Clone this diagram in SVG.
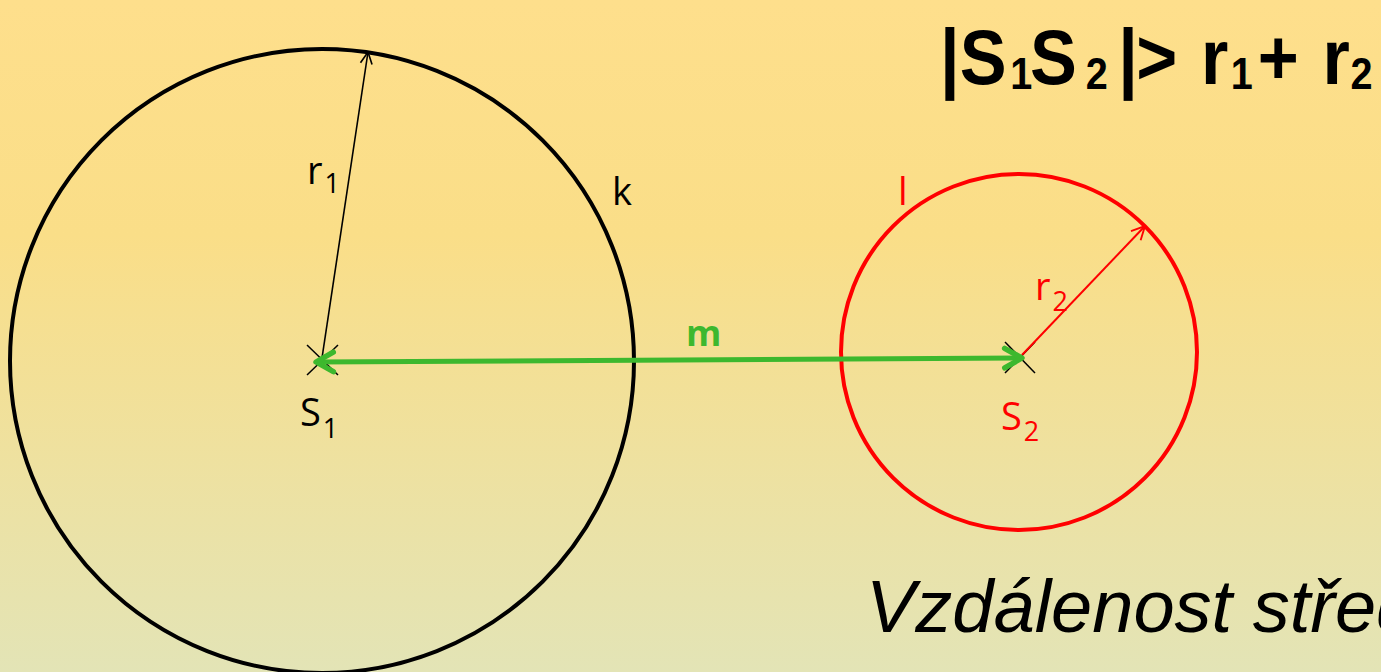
<svg xmlns="http://www.w3.org/2000/svg" width="1381" height="672" viewBox="0 0 1381 672">
  <defs>
    <linearGradient id="bg" x1="0" y1="0" x2="0" y2="1">
      <stop offset="0" stop-color="#FEDF8C"/>
      <stop offset="0.35" stop-color="#FADE88"/>
      <stop offset="1" stop-color="#E3E4B6"/>
    </linearGradient>
    <marker id="arrK" viewBox="0 0 12 12" refX="11" refY="6" markerWidth="14" markerHeight="14" markerUnits="userSpaceOnUse" orient="auto">
      <path d="M1,1 L11,6 L1,11" fill="none" stroke="#000" stroke-width="1.4"/>
    </marker>
    <marker id="arrR" viewBox="0 0 12 12" refX="11" refY="6" markerWidth="16" markerHeight="16" markerUnits="userSpaceOnUse" orient="auto">
      <path d="M1,1 L11,6 L1,11" fill="none" stroke="#FF0000" stroke-width="1.4"/>
    </marker>
    <marker id="arrG" viewBox="0 0 24 24" refX="21" refY="12" markerWidth="26" markerHeight="26" markerUnits="userSpaceOnUse" orient="auto-start-reverse">
      <path d="M5,3 L21,12 L5,21" fill="none" stroke="#3DB82E" stroke-width="5" stroke-linecap="round" stroke-linejoin="round"/>
    </marker>
  </defs>
  <style>
    .lbl { font-family: "Open Sans", "Noto Sans", sans-serif; font-size: 38px; }
    .sub { font-size: 27px; }
    .blk { fill: #000; }
    .red { fill: #FF0000; }
    .title { font-family: "Liberation Sans", Arial, sans-serif; font-weight: bold; font-size: 78px; fill: #000; }
    .tsub { font-size: 44px; }
    .note { font-family: "Liberation Sans", Arial, sans-serif; font-style: italic; font-size: 74px; fill: #000; }
    .cross { stroke: #000; stroke-width: 1.5; }
  </style>
  <rect x="0" y="0" width="1381" height="672" fill="url(#bg)"/>

  <g id="circle-k">
    <circle cx="322" cy="361" r="312" fill="none" stroke="#000" stroke-width="4"/>
    <text class="lbl blk" x="612" y="205">k</text>
  </g>

  <g id="circle-l">
    <circle cx="1019" cy="352" r="178" fill="none" stroke="#FF0000" stroke-width="4"/>
    <text class="lbl red" x="898" y="205">l</text>
  </g>

  <g id="point-S1">
    <line class="cross" x1="307" y1="345" x2="338" y2="375"/>
    <line class="cross" x1="307" y1="375" x2="338" y2="345"/>
    <text class="lbl blk" x="300" y="426">S<tspan class="sub" dx="2" y="438">1</tspan></text>
  </g>

  <g id="point-S2">
    <line class="cross" x1="1005" y1="342" x2="1035" y2="373"/>
    <line class="cross" x1="1005" y1="373" x2="1035" y2="342"/>
    <text class="lbl red" x="1001" y="430">S<tspan class="sub" dx="2" y="441">2</tspan></text>
  </g>

  <g id="connectors">
    <line x1="322" y1="358" x2="368" y2="52" stroke="#000" stroke-width="1.6" marker-end="url(#arrK)"/>
    <line x1="1022" y1="355" x2="1145" y2="226" stroke="#FF0000" stroke-width="2" marker-end="url(#arrR)"/>
    <line x1="316" y1="362" x2="1022" y2="358" stroke="#3DB82E" stroke-width="5" marker-start="url(#arrG)" marker-end="url(#arrG)"/>
  </g>

  <g id="label-r1">
    <text class="lbl blk" x="307" y="184">r<tspan class="sub" dx="2" y="193">1</tspan></text>
  </g>
  <g id="label-r2">
    <text class="lbl red" x="1035" y="300">r<tspan class="sub" dx="2" y="311">2</tspan></text>
  </g>
  <g id="label-m">
    <text x="686" y="346" font-family="'Open Sans', 'Noto Sans', sans-serif" font-weight="bold" font-size="36" fill="#3DB82E">m</text>
  </g>

  <g id="title" transform="translate(940 0) scale(0.9 1) translate(-940 0)">
    <text class="title" y="84"><tspan x="940">|</tspan><tspan x="962">S</tspan><tspan class="tsub" x="1018" y="89">1</tspan><tspan x="1040" y="84">S</tspan><tspan class="tsub" x="1102" y="89">2</tspan><tspan x="1138" y="84">|</tspan><tspan x="1158">&gt;</tspan><tspan x="1230">r</tspan><tspan class="tsub" x="1263" y="89">1</tspan><tspan x="1293" y="84">+</tspan><tspan x="1365">r</tspan><tspan class="tsub" x="1396" y="89">2</tspan></text>
  </g>

  <g id="note">
    <text class="note" x="866" y="632">Vzdálenost středů</text>
  </g>
</svg>
